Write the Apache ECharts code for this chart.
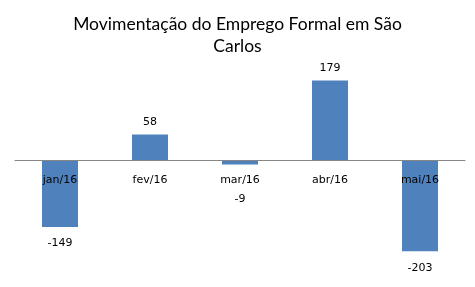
<!DOCTYPE html>
<html><head><meta charset="utf-8">
<script src="https://cdn.jsdelivr.net/npm/echarts@6/dist/echarts.min.js"></script>
<style>html,body{margin:0;padding:0;background:#fff}#c{width:475px;height:287px}</style>
</head><body><div id="c"></div>
<script>
const titleText = 'Movimentação do Emprego Formal em São\nCarlos';
const categories = ['jan/16', 'fev/16', 'mar/16', 'abr/16', 'mai/16'];
const values = [-149, 58, -9, 179, -203];

const chart = echarts.init(document.getElementById('c'), null, {renderer: 'canvas'});
chart.setOption({
  animation: false,
  backgroundColor: '#fff',
  title: {
    text: titleText, left: 'center', top: 8,
    textStyle: {fontFamily: 'Lato', fontSize: 17.5, fontWeight: 'normal', color: '#000', lineHeight: 22}
  },
  grid: {left: 15, right: 10, top: 60, bottom: 26},
  xAxis: {
    type: 'category', data: categories, z: 5,
    axisLine: {onZero: true, lineStyle: {color: '#868686', width: 1}},
    axisTick: {show: false},
    axisLabel: {color: '#000', fontFamily: 'DejaVu Sans', fontSize: 11, margin: -86}
  },
  yAxis: {
    type: 'value', min: -225, max: 225,
    axisLine: {show: false}, axisTick: {show: false}, axisLabel: {show: false},
    splitLine: {show: false}
  },
  series: [{
    type: 'bar', barWidth: 36,
    itemStyle: {color: '#4F81BD'},
    data: values.map(v => v === -9 ? {value: v, label: {distance: 12, offset: [0, 17]}}
                        : v < 0 ? {value: v, label: {distance: 11}} : v),
    label: {
      show: true, position: 'outside', distance: 7,
      color: '#000', fontFamily: 'DejaVu Sans', fontSize: 11
    }
  }]
});
</script></body></html>
